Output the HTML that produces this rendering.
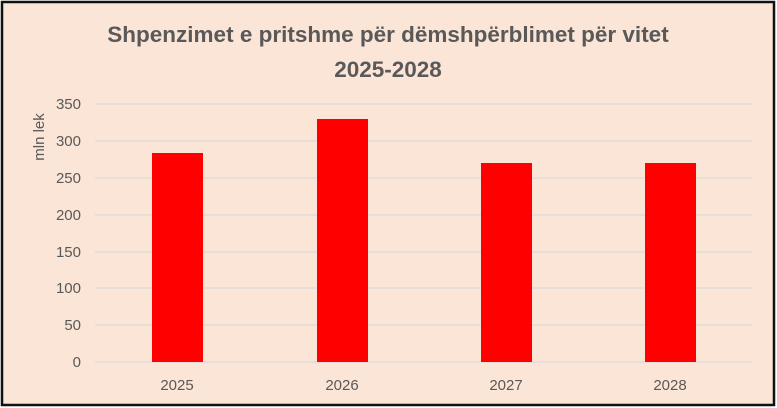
<!DOCTYPE html>
<html><head><style>
body{margin:0;background:#fff;}
svg{display:block;}
</style></head><body>
<svg width="777" height="408" xmlns="http://www.w3.org/2000/svg" font-family="Liberation Sans, sans-serif">
<rect x="2" y="2" width="772" height="403" fill="#fbe5d6" stroke="#111" stroke-width="2.5"/>
<text x="388" y="42" text-anchor="middle" font-size="22.5" font-weight="bold" fill="#595959">Shpenzimet e pritshme për dëmshpërblimet për vitet</text>
<text x="388" y="77" text-anchor="middle" font-size="22.5" font-weight="bold" fill="#595959">2025-2028</text>
<g stroke="#d9d9d9" stroke-width="1.3">
<line x1="95" x2="752" y1="104" y2="104"/>
<line x1="95" x2="752" y1="141" y2="141"/>
<line x1="95" x2="752" y1="178" y2="178"/>
<line x1="95" x2="752" y1="215" y2="215"/>
<line x1="95" x2="752" y1="252" y2="252"/>
<line x1="95" x2="752" y1="288" y2="288"/>
<line x1="95" x2="752" y1="325" y2="325"/>
<line x1="95" x2="752" y1="362" y2="362"/>
</g>
<g font-size="15" fill="#595959" text-anchor="end">
<text x="81" y="109">350</text><text x="81" y="146">300</text><text x="81" y="183">250</text>
<text x="81" y="220">200</text><text x="81" y="257">150</text><text x="81" y="293">100</text>
<text x="81" y="330">50</text><text x="81" y="367">0</text>
</g>
<text transform="translate(44,137) rotate(-90)" text-anchor="middle" font-size="15" fill="#595959">mln lek</text>
<g fill="#ff0000">
<rect x="152" y="153" width="51" height="209"/>
<rect x="317" y="119" width="51" height="243"/>
<rect x="481" y="163" width="51" height="199"/>
<rect x="645" y="163" width="51" height="199"/>
</g>
<g font-size="15" fill="#595959" text-anchor="middle">
<text x="177" y="390">2025</text><text x="342" y="390">2026</text>
<text x="506" y="390">2027</text><text x="670" y="390">2028</text>
</g>
</svg>
</body></html>
